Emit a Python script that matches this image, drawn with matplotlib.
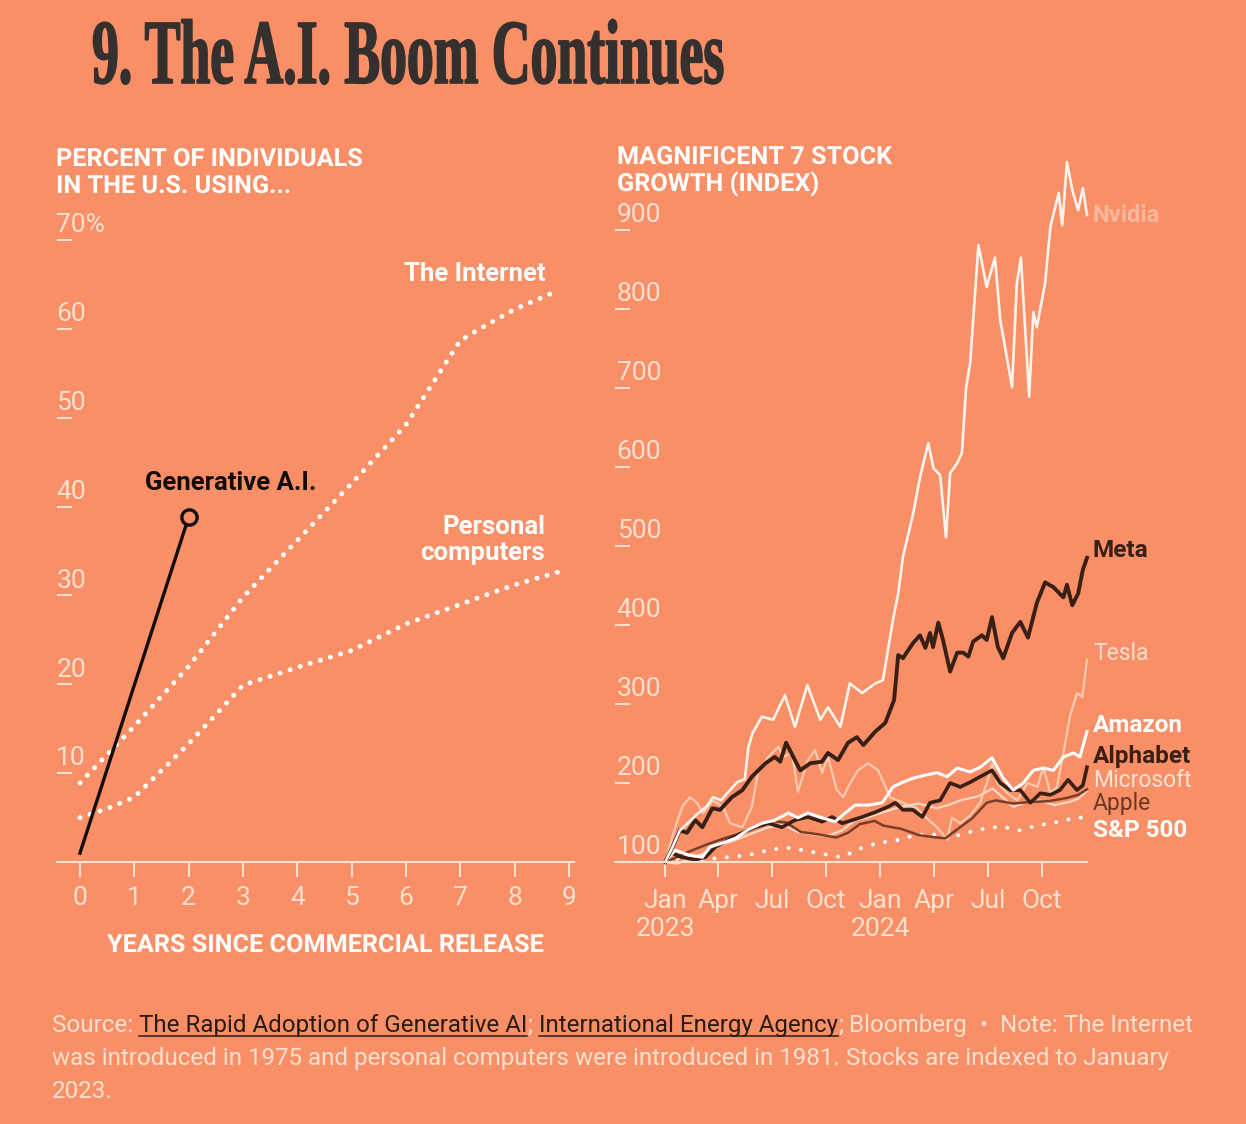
"""Two-panel chart: adoption of new technologies and growth of the Magnificent 7 stocks."""

import numpy as np
import matplotlib.pyplot as plt
import matplotlib.patheffects as pe
from matplotlib.lines import Line2D
from matplotlib.transforms import Affine2D, IdentityTransform

# ---- left panel: percent of individuals in the U.S. using each technology
years_genai = [0, 2]
pct_genai = [1.0, 38.8]
years_internet = [0, 1, 2, 3, 4, 5, 6, 7, 7.5, 8, 8.8]
pct_internet = [8.9, 15.3, 22.0, 29.8, 36.2, 42.6, 49.2, 58.7, 60.5, 62.2, 64.3]
years_pc = [0, 0.5, 1, 2, 3, 4, 5, 6, 7, 8, 8.9]
pct_pc = [5.0, 6.0, 7.3, 13.3, 19.9, 21.9, 23.8, 26.8, 29.0, 31.2, 32.8]
left_yticks = [10, 20, 30, 40, 50, 60, 70]
left_ylabels = ['10', '20', '30', '40', '50', '60', '70%']
left_xticks = [0, 1, 2, 3, 4, 5, 6, 7, 8, 9]

# ---- right panel: stock index (Jan 2023 = 100), x = days since Jan 1 2023
nvda_day = [0, 12, 25, 40, 56, 70, 81, 95, 105, 122, 135, 141, 148, 164, 183, 203, 220, 241, 263, 276,
            297, 313, 334, 356, 369, 386, 395, 403, 420, 432, 446, 455, 466, 476, 483, 495, 503, 510, 517, 531,
            545, 559, 568, 588, 596, 603, 617, 624, 630, 644, 653, 667, 673, 681, 690, 700, 708, 715]
nvda_val = [100, 118, 140, 150, 162, 170, 182, 178, 187, 201, 205, 245, 263, 284, 280, 311, 271, 324, 280, 296,
            271, 326, 314, 326, 330, 406, 440, 486, 540, 587, 630, 598, 590, 511, 592, 605, 618, 700, 732, 881,
            828, 865, 786, 701, 832, 865, 689, 796, 777, 833, 904, 947, 906, 986, 951, 925, 953, 919]

meta_day = [0, 12, 25, 37, 51, 63, 80, 93, 113, 131, 147, 170, 186, 195, 205, 220, 229, 246, 266, 276,
            293, 310, 325, 336, 356, 373, 388, 395, 403, 420, 432, 441, 449, 454, 463, 471, 483, 495, 505, 514,
            522, 537, 545, 554, 564, 573, 588, 602, 615, 630, 644, 658, 675, 681, 690, 700, 708, 715]
meta_val = [100, 118, 140, 137, 153, 144, 168, 166, 182, 191, 208, 225, 233, 227, 251, 229, 216, 225, 227, 238,
            229, 251, 258, 248, 265, 276, 305, 362, 358, 377, 387, 371, 390, 372, 403, 381, 341, 365, 365, 360,
            379, 387, 381, 410, 372, 358, 390, 404, 384, 428, 454, 448, 435, 451, 425, 440, 470, 485]

tsla_day = [0, 17, 29, 42, 54, 64, 81, 98, 110, 131, 147, 158, 175, 192, 200, 215, 225, 242, 254, 266,
            276, 291, 302, 310, 327, 344, 361, 381, 403, 427, 441, 461, 478, 486, 500, 517, 534, 547, 554, 563,
            580, 597, 614, 631, 641, 653, 664, 675, 686, 698, 707, 715]
tsla_val = [100, 144, 170, 182, 175, 162, 178, 170, 149, 144, 170, 216, 233, 246, 233, 238, 189, 229, 242, 213,
            233, 191, 182, 195, 216, 225, 216, 182, 175, 168, 157, 144, 128, 156, 149, 159, 175, 204, 225, 200,
            187, 178, 200, 195, 220, 187, 195, 238, 284, 314, 309, 356]

amzn_day = [0, 17, 39, 63, 76, 97, 119, 141, 164, 186, 209, 225, 242, 266, 288, 305, 322, 344, 368, 386,
            403, 420, 441, 461, 478, 495, 517, 534, 554, 573, 590, 607, 624, 641, 658, 675, 692, 703, 715]
amzn_val = [100, 115, 109, 106, 119, 124, 130, 141, 149, 153, 162, 156, 162, 156, 151, 162, 172, 172, 175, 195,
            201, 206, 210, 213, 208, 219, 214, 220, 232, 206, 191, 200, 216, 219, 216, 233, 238, 233, 265]

googl_day = [0, 12, 29, 51, 68, 85, 107, 131, 153, 175, 198, 220, 242, 266, 283, 300, 317, 334, 356, 378,
             390, 403, 420, 436, 449, 466, 483, 500, 517, 534, 554, 568, 585, 602, 619, 636, 653, 669, 683, 698,
             708, 715]
googl_val = [100, 111, 106, 103, 106, 119, 128, 137, 144, 149, 144, 153, 157, 151, 157, 149, 153, 157, 163, 170,
             175, 166, 166, 157, 175, 178, 200, 195, 201, 208, 216, 200, 191, 191, 175, 187, 185, 191, 204, 191,
             197, 220]

msft_day = [0, 20, 45, 70, 95, 120, 150, 175, 200, 225, 250, 275, 300, 320, 345, 370, 400, 430, 460, 480,
            500, 530, 555, 575, 590, 610, 635, 660, 685, 700, 715]
msft_val = [100, 98, 105, 112, 122, 128, 137, 144, 147, 138, 135, 133, 140, 152, 157, 163, 170, 174, 168, 172,
            178, 183, 193, 180, 170, 175, 178, 172, 176, 180, 190]

aapl_day = [0, 20, 40, 70, 100, 130, 160, 180, 205, 230, 260, 290, 310, 330, 355, 370, 400, 430, 460, 475,
            500, 520, 545, 560, 590, 620, 650, 680, 700, 715]
aapl_val = [100, 106, 113, 122, 130, 137, 146, 152, 150, 138, 135, 131, 137, 148, 152, 146, 142, 134, 131, 130,
            144, 155, 175, 178, 174, 176, 177, 181, 185, 192]

spx_day = [0, 30, 60, 90, 120, 150, 180, 210, 240, 270, 300, 330, 360, 390, 420, 450, 480, 510, 540, 570,
           600, 630, 660, 690, 715]
spx_val = [100, 106, 103, 105, 107, 110, 116, 118, 114, 110, 106, 117, 124, 127, 133, 136, 130, 137, 142, 145,
           140, 146, 150, 155, 157]

right_yticks = [100, 200, 300, 400, 500, 600, 700, 800, 900]
month_ticks = ['2023-01-01', '2023-04-01', '2023-07-01', '2023-10-01',
               '2024-01-01', '2024-04-01', '2024-07-01', '2024-10-01']
month_labels = ['Jan\n2023', 'Apr', 'Jul', 'Oct', 'Jan\n2024', 'Apr', 'Jul', 'Oct']

# colours
BG = '#f98f67'
PALE = '#fde0cf'
DARK = '#3a1f15'
W, H = 1246, 1124
TICK = 19

plt.rcParams['font.family'] = ['Roboto', 'DejaVu Sans']


def fx(px):
    return px / W


def fy(py):
    return 1 - py / H


class Squeeze(pe.AbstractPathEffect):
    """Narrows glyphs horizontally (a fake condensed face), optionally thickened."""

    def __init__(self, sx, stroke=0.0):
        super().__init__()
        self.sx = sx
        self.stroke = stroke

    def draw_path(self, renderer, gc, tpath, affine, rgbFace=None):
        trans = Affine2D().scale(self.sx, 1) + affine
        gc0 = renderer.new_gc()
        gc0.copy_properties(gc)
        if self.stroke > 0 and rgbFace is not None:
            gc0.set_linewidth(self.stroke)
            gc0.set_foreground(rgbFace)
            gc0.set_joinstyle('round')
        renderer.draw_path(gc0, tpath, trans, rgbFace)
        gc0.restore()


def to_dates(days):
    return np.datetime64('2023-01-01') + np.array(days).astype('timedelta64[D]')


def style_axis(ax, pad):
    ax.set_facecolor('none')
    for side in ['top', 'right', 'left']:
        ax.spines[side].set_visible(False)
    ax.spines['bottom'].set_color(PALE)
    ax.spines['bottom'].set_linewidth(1.5)
    ax.tick_params(axis='y', direction='in', length=11, width=1.5, color=PALE, labelleft=False)
    ax.tick_params(axis='x', direction='out', length=11, width=1.5, color=PALE,
                   labelcolor=PALE, labelsize=TICK, pad=pad)


fig = plt.figure(figsize=(W / 100, H / 100), dpi=100, facecolor=BG)

# ---------------- left panel
ax1 = fig.add_axes([fx(57), fy(862), (574 - 57) / W, (862 - 200) / H])
style_axis(ax1, 6)
ax1.set_xlim(-0.423, 9.093)
ax1.set_ylim(0, 74.5)

ax1.plot(years_internet, pct_internet, color='white', lw=3.6, linestyle=(0, (0.01, 2.1)),
         dash_capstyle='round', clip_on=False)
ax1.plot(years_pc, pct_pc, color='white', lw=3.6, linestyle=(0, (0.01, 2.1)),
         dash_capstyle='round', clip_on=False)
ax1.plot(years_genai, pct_genai, color='#120d0a', lw=2.4, clip_on=False)
ax1.plot(years_genai[-1:], pct_genai[-1:], 'o', ms=11, mew=2.4, mec='#120d0a', mfc=BG, clip_on=False)

ax1.set_yticks(left_yticks)
for v, lab in zip(left_yticks, left_ylabels):
    ax1.annotate(lab, xy=(0, v), xycoords=('axes fraction', 'data'), xytext=(-0.5, 2),
                 textcoords='offset points', ha='left', va='bottom', color=PALE, fontsize=TICK)
ax1.set_xticks(left_xticks)
ax1.set_xticklabels([str(t) for t in left_xticks])

lab_left = dict(va='baseline', fontsize=18.5, weight='bold')
fig.text(fx(545), fy(281), 'The Internet', ha='right', color='white', **lab_left)
fig.text(fx(545), fy(534), 'Personal', ha='right', color='white', **lab_left)
fig.text(fx(545), fy(560), 'computers', ha='right', color='white', **lab_left)
fig.text(fx(145), fy(490), 'Generative A.I.', ha='left', color='#120d0a', **lab_left)

# ---------------- right panel
ax2 = fig.add_axes([fx(615), fy(862), (1087 - 615) / W, (862 - 150) / H])
style_axis(ax2, 8.5)
ax2.set_xlim(to_dates([-85])[0], to_dates([715])[0])
ax2.set_ylim(100, 1001.3)

series = [
    (spx_day, spx_val, 'white', 2.9, 'dot'),
    (tsla_day, tsla_val, '#fcc9ae', 1.6, '-'),
    (msft_day, msft_val, '#fbd8c4', 1.6, '-'),
    (aapl_day, aapl_val, '#7a3d27', 1.8, '-'),
    (googl_day, googl_val, DARK, 2.6, '-'),
    (amzn_day, amzn_val, 'white', 2.2, '-'),
    (meta_day, meta_val, DARK, 2.8, '-'),
    (nvda_day, nvda_val, '#fff4ec', 1.9, '-'),
]
for days, vals, col, lw, ls in series:
    if ls == 'dot':
        ax2.plot(to_dates(days), vals, color=col, lw=lw, linestyle=(0, (0.01, 3.1)),
                 dash_capstyle='round', clip_on=False)
    else:
        ax2.plot(to_dates(days), vals, color=col, lw=lw, solid_joinstyle='round', clip_on=False)

ax2.set_yticks(right_yticks)
for v in right_yticks:
    ax2.annotate(str(v), xy=(0, v), xycoords=('axes fraction', 'data'), xytext=(1.2, 2.5),
                 textcoords='offset points', ha='left', va='bottom', color=PALE, fontsize=TICK)
ax2.set_xticks(to_dates([0, 90, 181, 273, 365, 456, 547, 639]))
ax2.set_xticklabels(month_labels, linespacing=1.18)

# end labels
labels = [
    ('Meta', 557, DARK, 'bold'),
    ('Tesla', 660, '#fddccb', 'normal'),
    ('Amazon', 732, 'white', 'bold'),
    ('Alphabet', 763, DARK, 'bold'),
    ('Microsoft', 787, '#fde3d5', 'normal'),
    ('Apple', 810, '#6e3722', 'normal'),
    ('S&P 500', 837, 'white', 'bold'),
]
for name, ypx, col, wt in labels:
    size = 17.5 if wt == 'bold' else 16.5
    fig.text(fx(1093), fy(ypx), name, ha='left', va='baseline', color=col, fontsize=size, weight=wt)
fig.text(fx(1092), fy(222), 'Nvidia', ha='left', va='baseline', color='#fde8dc', alpha=0.45,
         fontsize=17, weight='bold')

# ---------------- headings
fig.text(fx(92), fy(83), '9. The A.I. Boom Continues', ha='left', va='baseline',
         family=['Liberation Serif', 'DejaVu Serif'], weight='bold', fontsize=66, color='#35302d',
         path_effects=[Squeeze(0.585, stroke=1.2)])

head = dict(ha='left', va='baseline', color='white', fontsize=18, weight='bold',
            path_effects=[Squeeze(1.01)])
fig.text(fx(56), fy(166), 'PERCENT OF INDIVIDUALS', **head)
fig.text(fx(56), fy(193), 'IN THE U.S. USING...', **head)
fig.text(fx(617), fy(164), 'MAGNIFICENT 7 STOCK', **head)
fig.text(fx(617), fy(191), 'GROWTH (INDEX)', **head)
fig.text(fx(107), fy(952), 'YEARS SINCE COMMERCIAL RELEASE', **head)

# ---------------- footnote
FOOT = 17.4
LINK = '#2b1a13'
first = fig.text(fx(52), fy(1032), 'Source:', ha='left', va='baseline', color=PALE, fontsize=FOOT)
pieces = [
    ('The Rapid Adoption of Generative AI', LINK, 4.2),
    (';', PALE, 0.3),
    ('International Energy Agency', LINK, 4.2),
    (';', PALE, 0.3),
    ('Bloomberg', PALE, 4.2),
    ('\u2022', PALE, 9),
    ('Note: The Internet', PALE, 9),
]
prev = first
links = []
for s, col, gap in pieces:
    t = ax2.annotate(s, xy=(1, 0), xycoords=prev, xytext=(gap, 0), textcoords='offset points',
                     ha='left', va='bottom', color=col, fontsize=FOOT, annotation_clip=False)
    if col == LINK:
        links.append(t)
    prev = t
fig.text(fx(52), fy(1065), 'was introduced in 1975 and personal computers were introduced in 1981. '
         'Stocks are indexed to January', ha='left', va='baseline', color=PALE, fontsize=FOOT)
fig.text(fx(52), fy(1098), '2023.', ha='left', va='baseline', color=PALE, fontsize=FOOT)

# underline the source links
fig.canvas.draw()
for t in links:
    bb = t.get_window_extent()
    fig.add_artist(Line2D([bb.x0, bb.x1], [bb.y0 + 1.5, bb.y0 + 1.5], transform=IdentityTransform(),
                          color=LINK, lw=1.1))

fig.savefig('out.png', dpi=100, facecolor=BG)
